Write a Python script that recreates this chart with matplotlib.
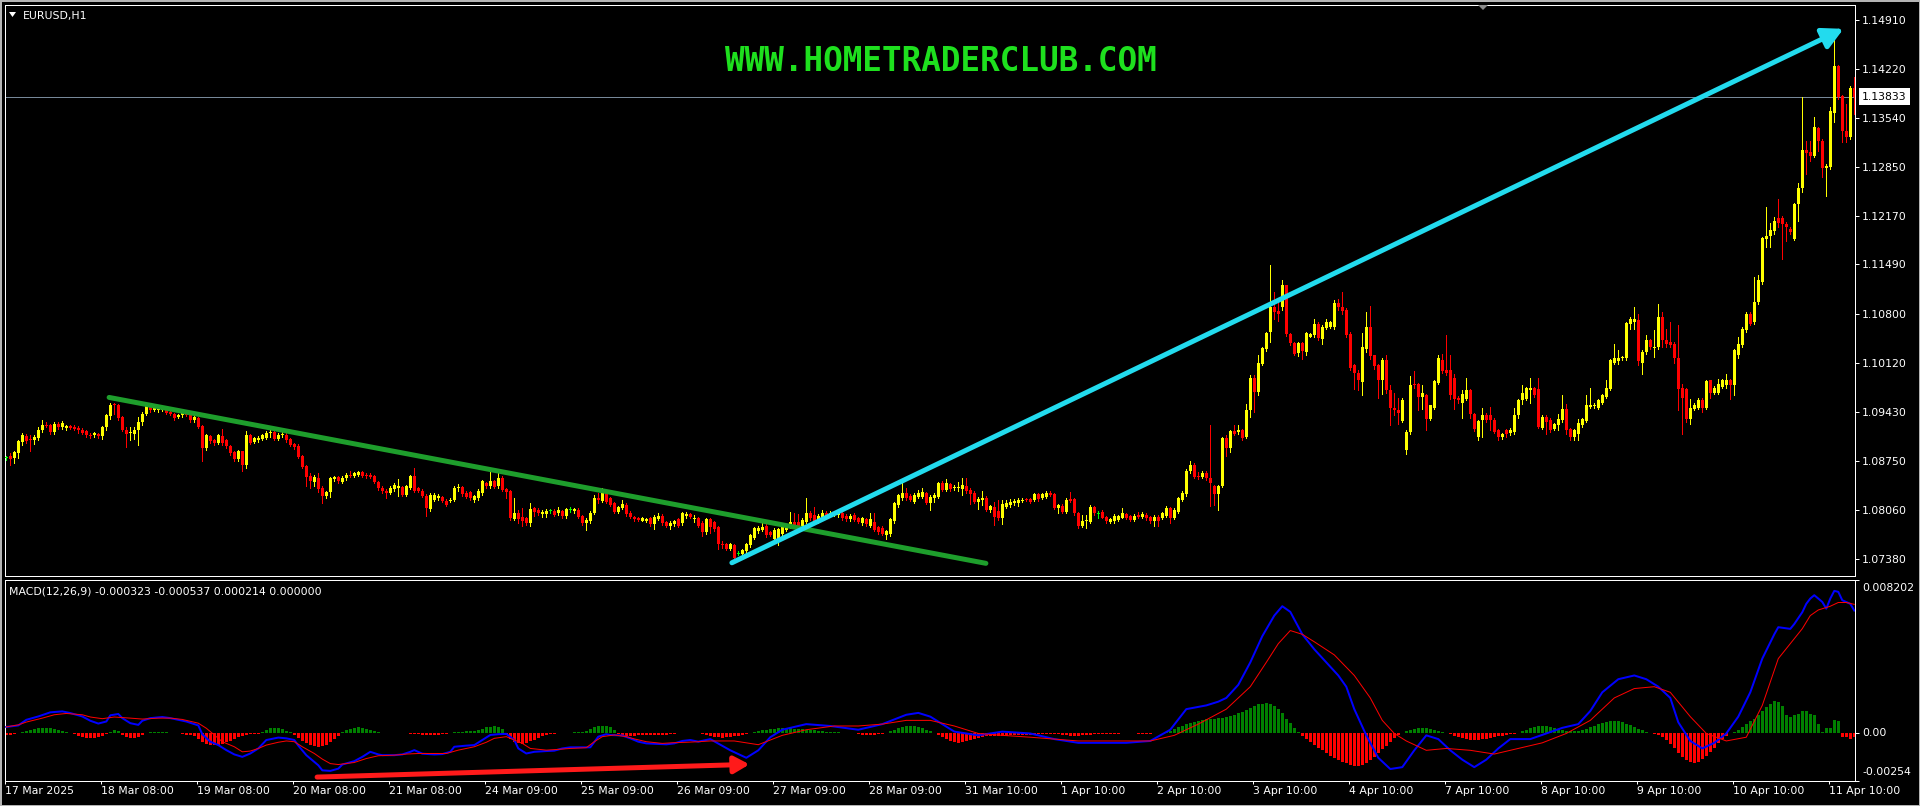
import numpy as np
import matplotlib
matplotlib.use("Agg")
import matplotlib.pyplot as plt
from matplotlib.patches import FancyArrowPatch, Polygon, Rectangle

# ---------------- data (EURUSD H1) ----------------
opens = [
 1.0879,1.0882,1.0878,1.0885,1.0901,1.0909,1.0905,1.0903,1.0906,1.0917,  # 0
 1.0925,1.0924,1.0915,1.0926,1.0922,1.0920,1.0923,1.0922,1.0921,1.0918,  # 10
 1.0916,1.0911,1.0910,1.0912,1.0909,1.0922,1.0937,1.0953,1.0952,1.0936,  # 20
 1.0917,1.0913,1.0912,1.0917,1.0929,1.0940,1.0951,1.0946,1.0945,1.0946,  # 30
 1.0946,1.0943,1.0940,1.0936,1.0938,1.0943,1.0939,1.0931,1.0934,1.0923,  # 40
 1.0892,1.0909,1.0903,1.0900,1.0909,1.0903,1.0895,1.0887,1.0877,1.0888,  # 50
 1.0869,1.0910,1.0901,1.0903,1.0905,1.0907,1.0913,1.0915,1.0905,1.0911,  # 60
 1.0911,1.0905,1.0898,1.0896,1.0881,1.0867,1.0853,1.0845,1.0851,1.0836,  # 70
 1.0825,1.0831,1.0849,1.0852,1.0845,1.0850,1.0855,1.0854,1.0855,1.0859,  # 80
 1.0855,1.0855,1.0853,1.0845,1.0837,1.0833,1.0830,1.0835,1.0837,1.0838,  # 90
 1.0827,1.0837,1.0853,1.0836,1.0833,1.0826,1.0807,1.0820,1.0822,1.0824,  # 100
 1.0819,1.0819,1.0820,1.0836,1.0838,1.0830,1.0831,1.0820,1.0822,1.0830,  # 110
 1.0843,1.0839,1.0846,1.0839,1.0851,1.0835,1.0832,1.0793,1.0801,1.0796,  # 120
 1.0794,1.0788,1.0808,1.0806,1.0800,1.0800,1.0804,1.0805,1.0801,1.0804,  # 130
 1.0797,1.0806,1.0804,1.0806,1.0798,1.0788,1.0790,1.0801,1.0823,1.0818,  # 140
 1.0829,1.0822,1.0815,1.0803,1.0808,1.0813,1.0802,1.0796,1.0794,1.0791,  # 150
 1.0790,1.0794,1.0786,1.0793,1.0798,1.0789,1.0784,1.0786,1.0793,1.0787,  # 160
 1.0798,1.0800,1.0793,1.0794,1.0788,1.0775,1.0793,1.0789,1.0782,1.0759,  # 170
 1.0758,1.0752,1.0757,1.0745,1.0744,1.0748,1.0757,1.0767,1.0776,1.0778,  # 180
 1.0784,1.0775,1.0766,1.0766,1.0773,1.0778,1.0782,1.0789,1.0789,1.0784,  # 190
 1.0789,1.0802,1.0799,1.0790,1.0796,1.0802,1.0798,1.0800,1.0799,1.0802,  # 200
 1.0798,1.0793,1.0799,1.0794,1.0787,1.0793,1.0784,1.0789,1.0782,1.0781,  # 210
 1.0771,1.0773,1.0790,1.0813,1.0822,1.0829,1.0826,1.0817,1.0824,1.0824,  # 220
 1.0829,1.0816,1.0822,1.0824,1.0843,1.0834,1.0842,1.0836,1.0836,1.0835,  # 230
 1.0840,1.0834,1.0830,1.0817,1.0820,1.0823,1.0806,1.0810,1.0804,1.0795,  # 240
 1.0810,1.0813,1.0815,1.0816,1.0819,1.0821,1.0821,1.0820,1.0828,1.0823,  # 250
 1.0824,1.0829,1.0828,1.0809,1.0812,1.0803,1.0821,1.0821,1.0801,1.0783,  # 260
 1.0790,1.0789,1.0810,1.0800,1.0803,1.0796,1.0789,1.0790,1.0792,1.0795,  # 270
 1.0800,1.0797,1.0792,1.0799,1.0796,1.0799,1.0796,1.0790,1.0796,1.0795,  # 280
 1.0798,1.0809,1.0795,1.0803,1.0820,1.0828,1.0860,1.0869,1.0854,1.0852,  # 290
 1.0858,1.0851,1.0840,1.0828,1.0840,1.0906,1.0892,1.0916,1.0915,1.0917,  # 300
 1.0908,1.0945,1.0991,1.0971,1.1010,1.1031,1.1054,1.1089,1.1084,1.1090,  # 310
 1.1120,1.1052,1.1039,1.1025,1.1039,1.1027,1.1048,1.1050,1.1066,1.1045,  # 320
 1.1060,1.1062,1.1062,1.1095,1.1090,1.1086,1.1052,1.1008,1.0998,1.0985,  # 330
 1.1031,1.1061,1.1022,1.1008,1.0987,1.1016,1.0973,1.0948,1.0945,1.0930,  # 340
 1.0890,1.0915,1.0982,1.0982,1.0964,1.0967,1.0933,1.0949,1.0984,1.1016,  # 350
 1.1002,1.1001,1.0991,1.0963,1.0956,1.0961,1.0973,1.0940,1.0908,1.0931,  # 360
 1.0938,1.0938,1.0932,1.0917,1.0908,1.0917,1.0913,1.0915,1.0938,1.0959,  # 370
 1.0961,1.0973,1.0976,1.0975,1.0921,1.0936,1.0932,1.0919,1.0924,1.0932,  # 380
 1.0947,1.0919,1.0908,1.0912,1.0924,1.0930,1.0950,1.0951,1.0948,1.0956,  # 390
 1.0964,1.0975,1.1012,1.1014,1.1018,1.1018,1.1066,1.1069,1.1071,1.1012,  # 400
 1.1026,1.1043,1.1032,1.1033,1.1075,1.1044,1.1040,1.1038,1.1018,1.0976,  # 410
 1.0975,1.0933,1.0947,1.0949,1.0960,1.0949,1.0987,1.0970,1.0970,1.0978,  # 420
 1.0980,1.0987,1.0981,1.1023,1.1036,1.1057,1.1080,1.1068,1.1096,1.1124,  # 430
 1.1185,1.1189,1.1196,1.1214,1.1214,1.1205,1.1199,1.1185,1.1233,1.1256,  # 440
 1.1309,1.1306,1.1301,1.1340,1.1322,1.1284,1.1285,1.1361,1.1427,1.1385,  # 450
 1.1336,1.1327,1.1396]                                                    # 460
highs = [
 1.0882,1.0885,1.0889,1.0904,1.0913,1.0912,1.0910,1.0910,1.0922,1.0932,
 1.0929,1.0926,1.0929,1.0929,1.0930,1.0925,1.0925,1.0924,1.0923,1.0920,
 1.0918,1.0913,1.0915,1.0914,1.0923,1.0940,1.0956,1.0955,1.0954,1.0937,
 1.0922,1.0922,1.0922,1.0936,1.0943,1.0953,1.0953,1.0951,1.0949,1.0949,
 1.0948,1.0945,1.0941,1.0940,1.0946,1.0945,1.0941,1.0938,1.0936,1.0925,
 1.0912,1.0911,1.0905,1.0912,1.0919,1.0905,1.0897,1.0889,1.0890,1.0889,
 1.0916,1.0912,1.0908,1.0909,1.0912,1.0916,1.0918,1.0918,1.0913,1.0916,
 1.0913,1.0907,1.0900,1.0898,1.0883,1.0869,1.0857,1.0855,1.0857,1.0840,
 1.0833,1.0852,1.0854,1.0854,1.0853,1.0857,1.0861,1.0859,1.0861,1.0861,
 1.0857,1.0857,1.0855,1.0847,1.0839,1.0835,1.0839,1.0844,1.0849,1.0840,
 1.0841,1.0855,1.0864,1.0838,1.0835,1.0828,1.0829,1.0829,1.0828,1.0826,
 1.0821,1.0822,1.0839,1.0842,1.0840,1.0832,1.0833,1.0827,1.0835,1.0848,
 1.0845,1.0861,1.0848,1.0857,1.0853,1.0837,1.0834,1.0822,1.0806,1.0809,
 1.0796,1.0815,1.0810,1.0808,1.0806,1.0807,1.0807,1.0807,1.0810,1.0806,
 1.0809,1.0810,1.0809,1.0808,1.0799,1.0794,1.0804,1.0827,1.0829,1.0836,
 1.0831,1.0824,1.0817,1.0812,1.0820,1.0815,1.0804,1.0798,1.0796,1.0796,
 1.0795,1.0796,1.0799,1.0801,1.0800,1.0791,1.0790,1.0792,1.0795,1.0803,
 1.0803,1.0802,1.0799,1.0796,1.0790,1.0795,1.0795,1.0791,1.0784,1.0762,
 1.0760,1.0760,1.0759,1.0748,1.0752,1.0760,1.0772,1.0782,1.0783,1.0789,
 1.0786,1.0777,1.0780,1.0781,1.0784,1.0786,1.0803,1.0801,1.0800,1.0794,
 1.0823,1.0804,1.0810,1.0800,1.0806,1.0804,1.0804,1.0805,1.0806,1.0804,
 1.0800,1.0800,1.0801,1.0796,1.0796,1.0795,1.0802,1.0801,1.0784,1.0783,
 1.0778,1.0795,1.0817,1.0828,1.0845,1.0836,1.0828,1.0829,1.0834,1.0837,
 1.0831,1.0827,1.0829,1.0845,1.0846,1.0849,1.0844,1.0841,1.0845,1.0850,
 1.0851,1.0836,1.0832,1.0824,1.0832,1.0825,1.0813,1.0817,1.0820,1.0820,
 1.0820,1.0821,1.0821,1.0822,1.0822,1.0822,1.0822,1.0830,1.0830,1.0830,
 1.0832,1.0832,1.0830,1.0814,1.0814,1.0822,1.0831,1.0823,1.0803,1.0799,
 1.0799,1.0813,1.0812,1.0804,1.0806,1.0798,1.0795,1.0800,1.0799,1.0809,
 1.0802,1.0799,1.0800,1.0803,1.0803,1.0801,1.0798,1.0799,1.0799,1.0803,
 1.0811,1.0810,1.0808,1.0824,1.0832,1.0863,1.0875,1.0871,1.0859,1.0860,
 1.0860,1.0924,1.0841,1.0841,1.0908,1.0910,1.0917,1.0924,1.0925,1.0919,
 1.0954,1.0994,1.0994,1.1022,1.1034,1.1055,1.1148,1.1111,1.1100,1.1128,
 1.1121,1.1053,1.1040,1.1041,1.1040,1.1054,1.1053,1.1073,1.1068,1.1064,
 1.1073,1.1070,1.1100,1.1101,1.1110,1.1088,1.1054,1.1010,1.1001,1.1053,
 1.1082,1.1091,1.1022,1.1010,1.1019,1.1022,1.0980,1.0970,1.0963,1.0963,
 1.0917,1.0993,1.1000,1.0983,1.0980,1.0968,1.0953,1.0988,1.1022,1.1024,
 1.1050,1.1022,1.0996,1.0965,1.0973,1.0991,1.0975,1.0942,1.0932,1.0949,
 1.0941,1.0950,1.0934,1.0919,1.0914,1.0919,1.0920,1.0948,1.0961,1.0980,
 1.0978,1.0991,1.0978,1.0991,1.0938,1.0938,1.0934,1.0928,1.0940,1.0966,
 1.0954,1.0921,1.0919,1.0933,1.0935,1.0967,1.0977,1.0955,1.0961,1.0968,
 1.0987,1.1017,1.1038,1.1029,1.1021,1.1069,1.1075,1.1089,1.1080,1.1029,
 1.1050,1.1045,1.1057,1.1094,1.1082,1.1059,1.1068,1.1040,1.1064,1.0982,
 1.0977,1.0961,1.0955,1.0963,1.0963,1.0988,1.0988,1.0979,1.0989,1.0989,
 1.0996,1.0989,1.1031,1.1047,1.1061,1.1082,1.1082,1.1131,1.1134,1.1187,
 1.1229,1.1207,1.1215,1.1241,1.1217,1.1208,1.1201,1.1235,1.1263,1.1383,
 1.1322,1.1322,1.1355,1.1341,1.1325,1.1290,1.1369,1.1463,1.1428,1.1386,
 1.1374,1.1399,1.1411]
lows = [
 1.0876,1.0869,1.0872,1.0878,1.0897,1.0899,1.0888,1.0898,1.0904,1.0915,
 1.0922,1.0912,1.0912,1.0919,1.0919,1.0918,1.0919,1.0917,1.0914,1.0912,
 1.0908,1.0906,1.0908,1.0907,1.0905,1.0918,1.0933,1.0940,1.0932,1.0916,
 1.0894,1.0903,1.0905,1.0897,1.0925,1.0939,1.0943,1.0944,1.0943,1.0944,
 1.0940,1.0938,1.0932,1.0934,1.0936,1.0937,1.0929,1.0929,1.0920,1.0874,
 1.0890,1.0900,1.0897,1.0898,1.0897,1.0893,1.0883,1.0875,1.0875,1.0861,
 1.0865,1.0898,1.0899,1.0901,1.0903,1.0905,1.0908,1.0903,1.0903,1.0908,
 1.0901,1.0895,1.0891,1.0878,1.0864,1.0840,1.0836,1.0840,1.0831,1.0816,
 1.0823,1.0824,1.0847,1.0843,1.0843,1.0848,1.0852,1.0852,1.0853,1.0852,
 1.0851,1.0850,1.0843,1.0834,1.0830,1.0822,1.0828,1.0833,1.0826,1.0825,
 1.0825,1.0835,1.0831,1.0831,1.0824,1.0798,1.0805,1.0818,1.0820,1.0817,
 1.0811,1.0817,1.0818,1.0833,1.0826,1.0822,1.0820,1.0817,1.0820,1.0827,
 1.0836,1.0836,1.0836,1.0836,1.0832,1.0823,1.0792,1.0792,1.0787,1.0784,
 1.0785,1.0784,1.0798,1.0799,1.0796,1.0796,1.0802,1.0797,1.0799,1.0795,
 1.0795,1.0803,1.0802,1.0794,1.0785,1.0778,1.0788,1.0800,1.0815,1.0817,
 1.0815,1.0811,1.0801,1.0801,1.0807,1.0798,1.0794,1.0791,1.0790,1.0790,
 1.0789,1.0784,1.0779,1.0792,1.0785,1.0782,1.0779,1.0784,1.0782,1.0785,
 1.0794,1.0794,1.0789,1.0782,1.0770,1.0773,1.0774,1.0777,1.0752,1.0753,
 1.0750,1.0750,1.0737,1.0743,1.0742,1.0746,1.0754,1.0766,1.0774,1.0776,
 1.0768,1.0769,1.0764,1.0757,1.0771,1.0776,1.0780,1.0781,1.0780,1.0782,
 1.0788,1.0792,1.0789,1.0788,1.0794,1.0796,1.0796,1.0798,1.0796,1.0792,
 1.0791,1.0791,1.0790,1.0787,1.0785,1.0784,1.0782,1.0776,1.0773,1.0771,
 1.0766,1.0770,1.0788,1.0810,1.0820,1.0820,1.0818,1.0815,1.0822,1.0823,
 1.0814,1.0806,1.0817,1.0823,1.0832,1.0832,1.0833,1.0834,1.0832,1.0827,
 1.0829,1.0814,1.0815,1.0807,1.0813,1.0804,1.0803,1.0785,1.0792,1.0786,
 1.0809,1.0810,1.0813,1.0812,1.0817,1.0818,1.0815,1.0818,1.0819,1.0821,
 1.0822,1.0825,1.0807,1.0801,1.0801,1.0801,1.0817,1.0799,1.0780,1.0782,
 1.0780,1.0787,1.0799,1.0795,1.0794,1.0788,1.0787,1.0788,1.0790,1.0794,
 1.0793,1.0790,1.0790,1.0795,1.0794,1.0792,1.0788,1.0783,1.0783,1.0793,
 1.0796,1.0787,1.0793,1.0801,1.0818,1.0826,1.0858,1.0850,1.0849,1.0850,
 1.0848,1.0812,1.0813,1.0806,1.0838,1.0882,1.0887,1.0910,1.0912,1.0904,
 1.0906,1.0936,1.0943,1.0966,1.1008,1.1028,1.1040,1.1073,1.1070,1.1086,
 1.1049,1.1037,1.1022,1.1021,1.1017,1.1022,1.1047,1.1047,1.1044,1.1038,
 1.1059,1.1060,1.1059,1.1086,1.1080,1.1048,1.1001,1.0975,1.0973,1.0966,
 1.1026,1.1017,1.1003,1.0962,1.0968,1.0970,1.0925,1.0938,1.0926,1.0929,
 1.0884,1.0912,1.0977,1.0945,1.0947,1.0917,1.0931,1.0947,1.0982,1.0997,
 1.0994,1.0961,1.0947,1.0956,1.0935,1.0959,1.0935,1.0916,1.0903,1.0908,
 1.0929,1.0917,1.0913,1.0903,1.0905,1.0908,1.0910,1.0912,1.0935,1.0954,
 1.0959,1.0956,1.0964,1.0921,1.0919,1.0912,1.0915,1.0917,1.0917,1.0929,
 1.0912,1.0903,1.0903,1.0903,1.0922,1.0929,1.0949,1.0949,1.0947,1.0954,
 1.0963,1.0973,1.1010,1.1010,1.1016,1.1016,1.1059,1.1059,1.1008,1.0996,
 1.1024,1.1031,1.1020,1.1031,1.1033,1.1033,1.1033,1.1012,1.0945,1.0912,
 1.0929,1.0926,1.0945,1.0947,1.0943,1.0947,1.0963,1.0968,1.0968,1.0976,
 1.0977,1.0961,1.0967,1.1019,1.1033,1.1054,1.1064,1.1066,1.1094,1.1122,
 1.1173,1.1173,1.1192,1.1201,1.1157,1.1182,1.1192,1.1183,1.1210,1.1250,
 1.1276,1.1294,1.1299,1.1308,1.1271,1.1245,1.1283,1.1348,1.1381,1.1320,
 1.1320,1.1325,1.1360]
closes = [
 1.0879,1.0877,1.0887,1.0902,1.0910,1.0902,1.0904,1.0908,1.0918,1.0924,
 1.0923,1.0915,1.0926,1.0922,1.0927,1.0923,1.0921,1.0919,1.0917,1.0914,
 1.0910,1.0909,1.0913,1.0909,1.0922,1.0938,1.0953,1.0952,1.0934,1.0917,
 1.0912,1.0915,1.0918,1.0929,1.0940,1.0952,1.0945,1.0949,1.0947,1.0947,
 1.0942,1.0940,1.0934,1.0938,1.0943,1.0939,1.0931,1.0936,1.0922,1.0892,
 1.0910,1.0902,1.0900,1.0910,1.0900,1.0895,1.0885,1.0877,1.0888,1.0869,
 1.0910,1.0900,1.0906,1.0907,1.0910,1.0914,1.0914,1.0905,1.0910,1.0912,
 1.0903,1.0897,1.0894,1.0880,1.0866,1.0852,1.0847,1.0852,1.0835,1.0826,
 1.0831,1.0850,1.0852,1.0846,1.0851,1.0855,1.0854,1.0857,1.0859,1.0854,
 1.0853,1.0852,1.0845,1.0836,1.0832,1.0830,1.0837,1.0841,1.0840,1.0827,
 1.0839,1.0853,1.0833,1.0833,1.0826,1.0808,1.0827,1.0827,1.0826,1.0819,
 1.0813,1.0820,1.0837,1.0838,1.0828,1.0824,1.0822,1.0826,1.0833,1.0846,
 1.0840,1.0846,1.0838,1.0850,1.0834,1.0831,1.0794,1.0801,1.0793,1.0791,
 1.0787,1.0807,1.0803,1.0801,1.0803,1.0804,1.0804,1.0799,1.0806,1.0797,
 1.0807,1.0806,1.0807,1.0796,1.0787,1.0792,1.0802,1.0822,1.0820,1.0829,
 1.0817,1.0813,1.0803,1.0810,1.0814,1.0800,1.0796,1.0793,1.0792,1.0794,
 1.0793,1.0786,1.0796,1.0798,1.0787,1.0784,1.0788,1.0790,1.0784,1.0801,
 1.0800,1.0796,1.0795,1.0784,1.0775,1.0793,1.0782,1.0779,1.0758,1.0757,
 1.0752,1.0758,1.0739,1.0745,1.0750,1.0758,1.0771,1.0780,1.0781,1.0782,
 1.0771,1.0771,1.0778,1.0779,1.0782,1.0784,1.0789,1.0784,1.0782,1.0792,
 1.0802,1.0794,1.0790,1.0798,1.0801,1.0798,1.0802,1.0803,1.0802,1.0794,
 1.0793,1.0798,1.0792,1.0789,1.0794,1.0786,1.0793,1.0778,1.0775,1.0773,
 1.0776,1.0793,1.0815,1.0827,1.0829,1.0822,1.0820,1.0827,1.0830,1.0831,
 1.0816,1.0824,1.0827,1.0843,1.0834,1.0843,1.0835,1.0837,1.0838,1.0841,
 1.0832,1.0828,1.0817,1.0821,1.0823,1.0806,1.0811,1.0796,1.0795,1.0814,
 1.0816,1.0817,1.0819,1.0820,1.0820,1.0820,1.0817,1.0828,1.0821,1.0828,
 1.0830,1.0827,1.0809,1.0813,1.0803,1.0820,1.0818,1.0801,1.0783,1.0790,
 1.0792,1.0810,1.0801,1.0800,1.0795,1.0790,1.0793,1.0798,1.0797,1.0801,
 1.0795,1.0792,1.0798,1.0796,1.0800,1.0794,1.0790,1.0796,1.0790,1.0801,
 1.0809,1.0795,1.0806,1.0822,1.0830,1.0861,1.0869,1.0852,1.0852,1.0857,
 1.0850,1.0843,1.0828,1.0840,1.0906,1.0892,1.0916,1.0912,1.0917,1.0906,
 1.0945,1.0991,1.0971,1.1011,1.1032,1.1053,1.1089,1.1083,1.1080,1.1120,
 1.1052,1.1039,1.1024,1.1039,1.1028,1.1053,1.1052,1.1066,1.1046,1.1062,
 1.1069,1.1068,1.1095,1.1089,1.1084,1.1050,1.1005,1.0997,1.0987,1.1033,
 1.1061,1.1021,1.1007,1.0987,1.1016,1.0973,1.0948,1.0945,1.0941,1.0959,
 1.0915,1.0981,1.0980,1.0964,1.0970,1.0933,1.0952,1.0986,1.1019,1.1000,
 1.0997,1.0966,1.0961,1.0959,1.0968,1.0974,1.0940,1.0919,1.0930,1.0938,
 1.0932,1.0932,1.0915,1.0908,1.0912,1.0912,1.0917,1.0939,1.0959,1.0970,
 1.0976,1.0976,1.0966,1.0922,1.0936,1.0929,1.0917,1.0926,1.0933,1.0947,
 1.0917,1.0908,1.0917,1.0927,1.0933,1.0952,1.0953,1.0953,1.0959,1.0966,
 1.0977,1.1015,1.1019,1.1018,1.1019,1.1067,1.1073,1.1073,1.1014,1.1026,
 1.1044,1.1033,1.1034,1.1075,1.1043,1.1038,1.1036,1.1018,1.0975,1.0962,
 1.0933,1.0948,1.0953,1.0960,1.0948,1.0986,1.0969,1.0977,1.0982,1.0987,
 1.0987,1.0980,1.1029,1.1038,1.1059,1.1080,1.1066,1.1096,1.1127,1.1186,
 1.1189,1.1197,1.1210,1.1207,1.1205,1.1202,1.1194,1.1233,1.1256,1.1309,
 1.1305,1.1301,1.1341,1.1322,1.1284,1.1287,1.1364,1.1427,1.1383,1.1335,
 1.1327,1.1396,1.13833]

price_ticks = [1.14910, 1.14220, 1.13540, 1.12850, 1.12170, 1.11490,
               1.10800, 1.10120, 1.09430, 1.08750, 1.08060, 1.07380]
price_tick_labels = ["1.14910", "1.14220", "1.13540", "1.12850", "1.12170", "1.11490",
                     "1.10800", "1.10120", "1.09430", "1.08750", "1.08060", "1.07380"]
date_labels = ["17 Mar 2025", "18 Mar 08:00", "19 Mar 08:00", "20 Mar 08:00", "21 Mar 08:00",
               "24 Mar 09:00", "25 Mar 09:00", "26 Mar 09:00", "27 Mar 09:00", "28 Mar 09:00",
               "31 Mar 10:00", "1 Apr 10:00", "2 Apr 10:00", "3 Apr 10:00", "4 Apr 10:00",
               "7 Apr 10:00", "8 Apr 10:00", "9 Apr 10:00", "10 Apr 10:00", "11 Apr 10:00"]
date_label_bars = [0, 24, 48, 72, 96, 120, 144, 168, 192, 216,
                   240, 264, 288, 312, 336, 360, 384, 408, 432, 456]
bid_price = 1.13833
bid_label = "1.13833"

# ---- MACD(12,26,9) window ----
macd_main_bars = [
 0, 3, 5, 8, 11, 14, 16, 19, 21, 23, 25, 26, 28, 29, 31, 33, 34, 36, 39, 41,
 43, 45, 48, 49, 51, 53, 55, 57, 59, 61, 63, 65, 68, 70, 72, 73, 75, 78, 79, 81,
 83, 84, 87, 89, 91, 93, 94, 97, 99, 101, 102, 104, 107, 109, 111, 112, 115, 117, 119, 121,
 123, 125, 127, 128, 130, 132, 135, 137, 139, 141, 144, 146, 148, 150, 151, 154, 156, 158, 160, 163,
 165, 167, 169, 171, 173,
 176, 181, 185, 188, 191, 194, 200, 206, 213, 219, 225, 228, 231, 237, 243, 249, 256, 262, 268, 274,
 280, 286, 291, 295, 300, 303, 305, 308, 311, 314, 317, 319, 321, 324, 327, 330, 333, 335, 337, 340,
 343, 346, 349, 352, 355, 358, 361, 364, 367, 370, 373, 376, 381, 385, 389, 393, 396, 399, 403, 407,
 410, 413, 416, 418, 421, 424, 427, 430, 433, 436, 439, 442, 443, 446, 447, 449, 450, 451, 452, 454,
 455, 456, 457, 458, 459, 461, 462]
macd_main = [
 0.00035, 0.00043, 0.00073, 0.00091, 0.00113, 0.00118, 0.00109, 0.00091, 0.00068, 0.00053,
 0.00064, 0.00097, 0.00104, 0.00082, 0.00055, 0.00046, 0.00068, 0.00082, 0.00088, 0.00082,
 0.00073, 0.00064, 0.00043, -0.00004, -0.00044, -0.00062, -0.00089, -0.00112, -0.00125, -0.00107,
 -0.00080, -0.00035, -0.00022, -0.00026, -0.00035, -0.00065, -0.00116, -0.00170, -0.00197, -0.00200,
 -0.00188, -0.00166, -0.00148, -0.00125, -0.00098, -0.00112, -0.00116, -0.00116, -0.00112, -0.00098,
 -0.00089, -0.00108, -0.00112, -0.00110, -0.00098, -0.00071, -0.00065, -0.00062, -0.00035, -0.00008,
 -0.00004, -0.00002, -0.00035, -0.00080, -0.00107, -0.00098, -0.00094, -0.00092, -0.00080, -0.00074,
 -0.00074, -0.00074, -0.00017, -0.00004, -0.00008, -0.00011, -0.00026, -0.00044, -0.00053, -0.00056,
 -0.00058, -0.00053, -0.00040, -0.00035, -0.00044,
 -0.0003, -0.0009, -0.0013, -0.0009, -0.0002, 0.0002, 0.0005, 0.0004, 0.0002, 0.0005,
 0.0010, 0.0011, 0.0009, 0.0001, -0.0001, 0.0001, 0.0000, -0.0003, -0.0005, -0.0005,
 -0.0005, -0.0004, 0.0002, 0.0013, 0.0015, 0.0017, 0.0019, 0.0026, 0.0038, 0.0052,
 0.0063, 0.0068, 0.0065, 0.0053, 0.0045, 0.0038, 0.0031, 0.0025, 0.0013, -0.0001,
 -0.0013, -0.0019, -0.0018, -0.0009, -0.0001, -0.0003, -0.0009, -0.0014, -0.0018, -0.0014,
 -0.0008, -0.0003, -0.0003, 0.0000, 0.0003, 0.0005, 0.0012, 0.0022, 0.0029, 0.0031,
 0.0029, 0.0025, 0.0019, 0.0006, -0.0004, -0.0008, -0.0005, 0.0000, 0.0009, 0.0022,
 0.0040, 0.0053, 0.00568, 0.00559, 0.00585, 0.00648, 0.00693, 0.00721, 0.00739, 0.00703,
 0.00667, 0.00721, 0.00762, 0.00757, 0.00712, 0.00693, 0.00657]
macd_signal_bars = [
 0, 3, 5, 9, 12, 15, 19, 21, 24, 27, 31, 34, 38, 41, 44, 48, 50, 52, 54, 57,
 59, 61, 63, 65, 68, 70, 72, 74, 77, 79, 81, 83, 87, 90, 93, 97, 100, 103, 107, 110,
 113, 117, 120, 122, 125, 127, 129, 131, 135, 138, 141, 145, 147, 149, 152, 155, 157, 160, 164, 167,
 170, 173,
 176, 182, 188, 194, 200, 207, 213, 219, 225, 231, 237, 243, 249, 256, 262, 268, 274, 280, 286, 292,
 298, 305, 311, 315, 318, 321, 324, 327, 332, 337, 341, 344, 347, 350, 355, 360, 366, 372, 378, 384,
 390, 396, 402, 407, 412, 416, 421, 425, 430, 435, 439, 443, 446, 449, 451, 453, 456, 458, 460, 462]
macd_signal = [
 0.00035, 0.00046, 0.00061, 0.00082, 0.00100, 0.00107, 0.00100, 0.00088, 0.00079, 0.00088,
 0.00082, 0.00077, 0.00082, 0.00082, 0.00075, 0.00055, 0.00028, -0.00008, -0.00044, -0.00071,
 -0.00098, -0.00094, -0.00080, -0.00062, -0.00047, -0.00040, -0.00044, -0.00071, -0.00107, -0.00137,
 -0.00161, -0.00166, -0.00155, -0.00134, -0.00119, -0.00116, -0.00110, -0.00107, -0.00107, -0.00107,
 -0.00089, -0.00071, -0.00047, -0.00026, -0.00017, -0.00035, -0.00053, -0.00080, -0.00089, -0.00085,
 -0.00080, -0.00076, -0.00044, -0.00017, -0.00008, -0.00017, -0.00029, -0.00044, -0.00053, -0.00049,
 -0.00047, -0.00044,
 -0.0004, -0.0004, -0.0006, -0.0001, 0.0002, 0.0004, 0.0004, 0.0005, 0.0007, 0.0007,
 0.0004, 0.0000, -0.0001, -0.0002, -0.0003, -0.0004, -0.0004, -0.0004, -0.0004, -0.0001,
 0.0005, 0.0013, 0.0025, 0.0038, 0.0048, 0.0055, 0.0053, 0.0049, 0.0042, 0.0031,
 0.0019, 0.0007, 0.0000, -0.0004, -0.0009, -0.0008, -0.0009, -0.0011, -0.0008, -0.0005,
 0.0000, 0.0007, 0.0019, 0.0024, 0.0025, 0.0022, 0.0009, 0.0000, -0.0004, -0.0002,
 0.0015, 0.0040, 0.0048, 0.0056, 0.0063, 0.0066, 0.0068, 0.0070, 0.0070, 0.0069]
# histogram, one value per bar (0..462)
macd_hist = [
 -0.00010, -0.00008, -0.00005,
 0.00005, 0.00010, 0.00015, 0.00020, 0.00025, 0.00028, 0.00030, 0.00030, 0.00028, 0.00025,
 0.00020, 0.00015, 0.00010, 0.00005,
 -0.00005, -0.00012, -0.00018, -0.00022, -0.00025, -0.00024, -0.00020, -0.00012, -0.00005,
 0.00010, 0.00018, 0.00012,
 -0.00010, -0.00020, -0.00025, -0.00024, -0.00018, -0.00008,
 0.00003, 0.00006, 0.00008, 0.00008, 0.00007, 0.00006, 0.00005, 0.00003, 0.00002,
 -0.00005, -0.00008, -0.00010, -0.00015,
 -0.00030, -0.00045, -0.00055, -0.00060, -0.00062, -0.00060, -0.00055, -0.00048, -0.00040, -0.00030,
 -0.00020, -0.00012,
 -0.00008, -0.00005, -0.00003, -0.00002,
 0.00010, 0.00020, 0.00028, 0.00030, 0.00028, 0.00022, 0.00015, 0.00008,
 -0.00010, -0.00025, -0.00040, -0.00052, -0.00060, -0.00066, -0.00070, -0.00068, -0.00060, -0.00045,
 -0.00030, -0.00012,
 0.00008, 0.00018, 0.00025, 0.00030, 0.00032, 0.00030, 0.00025, 0.00018, 0.00012, 0.00006,
 0.00004, 0.00003, 0.00003, 0.00002, 0.00002, 0.00001, 0.00001, -0.00002, -0.00003, -0.00004,
 -0.00006, -0.00008, -0.00008, -0.00007, -0.00006, -0.00004, -0.00002,
 0.00003, 0.00006, 0.00008, 0.00010, 0.00012, 0.00012, 0.00014, 0.00016,
 0.00025, 0.00032, 0.00036, 0.00038, 0.00035, 0.00025,
 -0.00010, -0.00030, -0.00045, -0.00052, -0.00055, -0.00050, -0.00042, -0.00035, -0.00025, -0.00015,
 -0.00008,
 -0.00005, -0.00003, 0.00002, 0.00004, 0.00005, 0.00005, 0.00006, 0.00008, 0.00010, 0.00015,
 0.00025, 0.00035, 0.00040, 0.00042, 0.00040, 0.00032, 0.00020,
 -0.00005, -0.00012, -0.00015, -0.00015, -0.00012, -0.00010, -0.00008,
 -0.00008, -0.00010, -0.00010, -0.00009, -0.00008, -0.00006, -0.00004, -0.00002,
 0.00002, 0.00004, 0.00005, 0.00005, 0.00004, 0.00002,
 -0.00005, -0.00010, -0.00015, -0.00018, -0.00020, -0.00022, -0.00020, -0.00018,
 -0.00015, -0.00012, -0.00008, -0.00004, 0.00002, 0.00008,
 0.00012, 0.00016, 0.00020, 0.00024, 0.00026, 0.00028, 0.00030, 0.00030, 0.00028, 0.00026,
 0.00024, 0.00022, 0.00020, 0.00018, 0.00016, 0.00014, 0.00012, 0.00010, 0.00008, 0.00007,
 0.00006, 0.00005, 0.00004, 0.00003, 0.00002,
 -0.00003, -0.00006, -0.00008, -0.00008, -0.00006, -0.00004, -0.00002,
 0.00005, 0.00012, 0.00020, 0.00028, 0.00035, 0.00040, 0.00042, 0.00040, 0.00035, 0.00028,
 0.00020, 0.00012, 0.00004,
 -0.00008, -0.00020, -0.00032, -0.00042, -0.00048, -0.00050, -0.00048, -0.00042, -0.00035, -0.00028,
 -0.00022,
 -0.00018, -0.00015, -0.00014, -0.00013, -0.00012, -0.00012, -0.00011, -0.00010, -0.00010, -0.00009,
 -0.00008, -0.00007, -0.00006, -0.00005, -0.00004, -0.00003,
 -0.00002, -0.00002, -0.00003, -0.00005, -0.00008, -0.00010, -0.00012, -0.00013, -0.00012, -0.00010,
 -0.00008, -0.00006, -0.00005, -0.00004,
 -0.00004, -0.00003, -0.00003, -0.00002, -0.00001, 0.00001, 0.00002, 0.00002, 0.00001, -0.00001,
 -0.00002, -0.00002, -0.00001, 0.00001, 0.00003, 0.00005, 0.00008,
 0.00015, 0.00025, 0.00035, 0.00040, 0.00048, 0.00055, 0.00060, 0.00065, 0.00070, 0.00075,
 0.00078, 0.00080, 0.00082, 0.00085, 0.00090, 0.00095, 0.00100, 0.00108, 0.00115, 0.00125,
 0.00135, 0.00145, 0.00155, 0.00160, 0.00162, 0.00158, 0.00148, 0.00130, 0.00110,
 0.00080, 0.00055, 0.00030, 0.00008,
 -0.00015, -0.00030, -0.00045, -0.00060, -0.00075, -0.00090, -0.00105, -0.00118, -0.00130, -0.00142,
 -0.00152, -0.00160, -0.00168, -0.00172, -0.00174, -0.00168, -0.00158, -0.00142, -0.00124, -0.00105,
 -0.00085, -0.00065, -0.00045, -0.00025,
 -0.00008, 0.00005, 0.00012, 0.00018, 0.00024, 0.00028, 0.00030, 0.00028, 0.00024, 0.00018,
 0.00012, 0.00006, 0.00002,
 -0.00005, -0.00012, -0.00018, -0.00024, -0.00030, -0.00034, -0.00036, -0.00035, -0.00032, -0.00028,
 -0.00024, -0.00020, -0.00016, -0.00012, -0.00008, -0.00005, -0.00002,
 0.00005, 0.00012, 0.00020, 0.00028, 0.00035, 0.00040, 0.00042, 0.00040, 0.00036, 0.00030,
 0.00024, 0.00018, 0.00014, 0.00012, 0.00012,
 0.00015, 0.00020, 0.00026, 0.00032, 0.00040, 0.00048, 0.00055, 0.00060, 0.00064, 0.00066,
 0.00064, 0.00060, 0.00052, 0.00044, 0.00035, 0.00026, 0.00016,
 0.00008, 0.00002, -0.00004, -0.00010, -0.00020, -0.00035,
 -0.00055, -0.00080, -0.00105, -0.00125, -0.00140, -0.00152, -0.00158, -0.00152, -0.00138, -0.00120,
 -0.00098, -0.00075, -0.00052, -0.00030, -0.00012,
 0.00002, 0.00010,
 0.00020, 0.00035, 0.00050, 0.00065, 0.00080, 0.00100, 0.00120, 0.00140, 0.00160, 0.00175,
 0.00166, 0.00148, 0.00100, 0.00090, 0.00099, 0.00106, 0.00121, 0.00121, 0.00106, 0.00100,
 0.00050, 0.00010, 0.00030, 0.00030, 0.00070, 0.00067, -0.00020, -0.00020, -0.00030, -0.00020]
macd_top, macd_bottom = 0.008202, -0.00254
macd_tick_values = [0.008202, 0.0, -0.00254]
macd_tick_labels = ["0.008202", "0.00", "-0.00254"]
macd_title = "MACD(12,26,9) -0.000323 -0.000537 0.000214 0.000000"

# hand-drawn objects, anchored as (bar, value)
green_trend = [(25.7, 1.09632), (244.9, 1.07313)]
cyan_arrow = [(181.4, 1.07321), (459.3, 1.14784)]
red_arrow = [(77.7, -0.00233), (185.8, -0.00165)]
watermark = "WWW.HOMETRADERCLUB.COM"
symbol_title = "EURUSD,H1"

assert len(opens) == len(highs) == len(lows) == len(closes) == len(macd_hist) == 463
assert len(macd_main_bars) == len(macd_main) and len(macd_signal_bars) == len(macd_signal)

# ---------------- figure ----------------
W, H = 1920, 806
PX = 72.0 / 100.0  # points per pixel
fig = plt.figure(figsize=(W / 100, H / 100), dpi=100, facecolor="black")
FONT = "DejaVu Sans"
FS = 7.8


def rect(l, t, r, b):
    return [l / W, 1 - b / H, (r - l) / W, (b - t) / H]


ax = fig.add_axes(rect(5, 5, 1855, 576))
axm = fig.add_axes(rect(5, 580, 1855, 781))

for a in (ax, axm):
    a.set_facecolor("black")
    for s in a.spines.values():
        s.set_color("white")
        s.set_linewidth(1 * PX)

o = np.array(opens); h = np.array(highs); l = np.array(lows); c = np.array(closes)
x = np.arange(len(c))
colors = np.where(c > o, "#ffff00", np.where(c < o, "#ff0000", "#00ff00"))

ax.vlines(x, l, h, colors=colors, linewidth=1 * PX, antialiased=False, zorder=2)
body_lo = np.minimum(o, c)
body_h = np.maximum(np.abs(c - o), 0.00014)
ax.bar(x, body_h, bottom=body_lo, width=0.75, color=colors, linewidth=0,
       antialiased=False, zorder=3)

ax.set_xlim(-0.33, 462.18)
ax.set_ylim(1.07136, 1.15117)
ax.set_yticks(price_ticks)
ax.set_yticklabels(price_tick_labels)
ax.yaxis.tick_right()
ax.tick_params(axis="y", colors="white", length=4 * PX, width=1 * PX, pad=2.7 * PX,
               labelsize=FS, labelfontfamily=FONT)
ax.tick_params(axis="x", bottom=False, labelbottom=False)

# bid line + label
ax.axhline(bid_price, color="#778899", linewidth=1 * PX, zorder=1)
ax.annotate(bid_label, xy=(1, bid_price), xycoords=("axes fraction", "data"),
            xytext=(7, 0), textcoords="offset pixels", ha="left", va="center",
            color="black", fontsize=FS, family=FONT, annotation_clip=False,
            bbox=dict(boxstyle="square,pad=0.32", fc="white", ec="none"), zorder=10)

# trend line and arrow
gx, gy = zip(*green_trend)
ax.plot(gx, gy, color="#1e9e2c", linewidth=5 * PX, solid_capstyle="round", zorder=5)
ax.add_patch(FancyArrowPatch(cyan_arrow[0], cyan_arrow[1],
                             arrowstyle="-|>,head_length=0.95,head_width=0.5",
                             mutation_scale=13, color="#22dbee", linewidth=5 * PX,
                             capstyle="round", shrinkA=0, shrinkB=0, zorder=6))

# ---------------- MACD window ----------------
hist = np.array(macd_hist)
hx = np.arange(len(hist))
hcol = np.where(hist >= 0, "#008000", "#ff0000")
axm.bar(hx, hist, width=0.75, color=hcol, linewidth=0, antialiased=False, zorder=2)
axm.plot(macd_main_bars, macd_main, color="#0000ff", linewidth=2 * PX, zorder=3)
axm.plot(macd_signal_bars, macd_signal, color="#ff0000", linewidth=1 * PX, zorder=4)
axm.add_patch(FancyArrowPatch(red_arrow[0], red_arrow[1],
                              arrowstyle="-|>,head_length=0.9,head_width=0.5",
                              mutation_scale=10, color="#ff1a1a", linewidth=5 * PX,
                              capstyle="round", shrinkA=0, shrinkB=0, zorder=6))
axm.set_xlim(-0.33, 462.18)
axm.set_ylim(macd_bottom, macd_top)
axm.yaxis.tick_right()
axm.set_yticks(macd_tick_values)
axm.set_yticklabels(["", "", ""])
axm.tick_params(axis="y", colors="white", length=4 * PX, width=1 * PX)
# label offsets in pixels (positive = up): top label sits inside, bottom label sits inside
for val, lab, dy in zip(macd_tick_values, macd_tick_labels, (-8, 0, 9)):
    axm.annotate(lab, xy=(1, val), xycoords=("axes fraction", "data"),
                 xytext=(7, dy), textcoords="offset pixels", ha="left", va="center",
                 color="white", fontsize=FS, family=FONT, annotation_clip=False)
axm.set_xticks(np.array(date_label_bars) - 0.25)
axm.set_xticklabels(date_labels, ha="left")
axm.tick_params(axis="x", colors="white", length=3 * PX, width=1 * PX, pad=1.8 * PX,
                labelsize=FS, labelfontfamily=FONT)

# ---------------- texts ----------------
fig.text(23 / W, 1 - 19 / H, symbol_title, color="white", fontsize=FS, family=FONT,
         va="baseline", ha="left")
fig.patches.append(Polygon([[9 / W, 1 - 12 / H], [16 / W, 1 - 12 / H], [12.5 / W, 1 - 17 / H]],
                           closed=True, transform=fig.transFigure, fc="white", ec="none"))
fig.text(9 / W, 1 - 594 / H, macd_title, color="white", fontsize=FS, family=FONT,
         va="baseline", ha="left")
fig.text(941 / W, 1 - 71 / H, watermark, color="#1ee01e", fontsize=23.5,
         family="DejaVu Sans Mono", weight="bold", va="baseline", ha="center")

# chart-shift marker and outer border
fig.patches.append(Polygon([[1478 / W, 1 - 5 / H], [1488 / W, 1 - 5 / H], [1483 / W, 1 - 10 / H]],
                           closed=True, transform=fig.transFigure, fc="#8a8a8a", ec="none"))
fig.patches.append(Rectangle((0, 0), 1, 1, transform=fig.transFigure, fill=False,
                             edgecolor="#b4b4b4", linewidth=3 * PX))

fig.savefig("out.png", dpi=100, facecolor="black")
